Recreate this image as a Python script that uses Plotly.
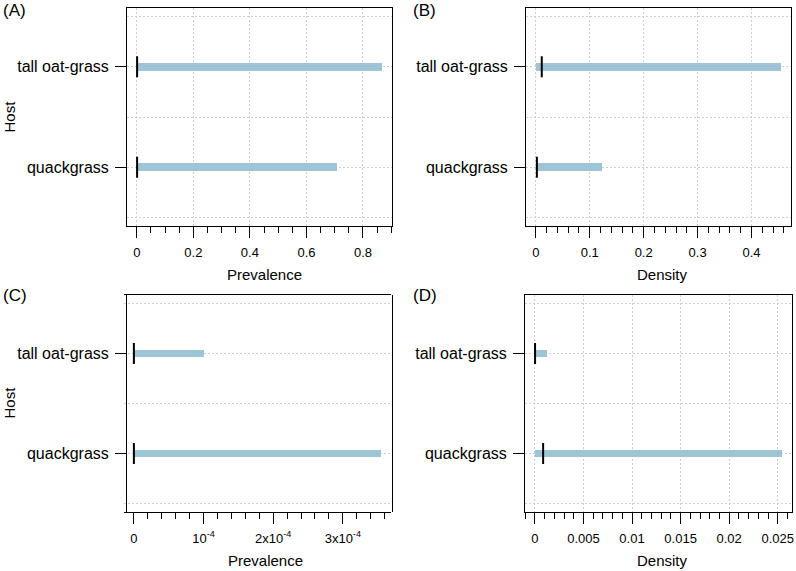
import plotly.graph_objects as go

W, H = 796, 571

# ---------------- data ----------------
hosts = ["quackgrass", "tall oat-grass"]
host_pos = [1, 2]

# (A) prevalence, top row
a_low = [0.0, 0.0]
a_high = [0.707, 0.868]
a_est = [0.001, 0.001]

# (B) density, top row
b_low = [0.0, 0.0]
b_high = [0.122, 0.455]
b_est = [0.002, 0.011]

# (C) prevalence, bottom row
c_low = [0.0, 0.0]
c_high = [3.55e-4, 1.0e-4]
c_est = [0.0, 0.0]

# (D) density, bottom row
d_low = [0.0, 0.0]
d_high = [0.0254, 0.0012]
d_est = [0.00085, 0.00002]

c_tickvals = [0, 1e-4, 2e-4, 3e-4]
c_ticktext = ["0", "10<sup>-4</sup>", "2x10<sup>-4</sup>", "3x10<sup>-4</sup>"]

BAR_COLOR = "#9DC5D6"
FONT = "Liberation Sans, Arial, sans-serif"
GRID = "#CFCFCF"

def px_x(p):
    return p / W

def px_y(p):
    return 1 - p / H

fig = go.Figure()

def add_panel(xa, ya, low, high, est):
    fig.add_trace(go.Bar(
        y=host_pos, x=[h - l for h, l in zip(high, low)], base=low,
        orientation="h", width=0.075,
        marker=dict(color=BAR_COLOR, line=dict(width=0)),
        xaxis=xa, yaxis=ya, showlegend=False, hoverinfo="skip"))
    fig.add_trace(go.Scatter(
        y=host_pos, x=est, mode="markers",
        marker=dict(symbol="line-ns", size=15, color="black",
                    line=dict(width=2, color="black")),
        xaxis=xa, yaxis=ya, showlegend=False, hoverinfo="skip", cliponaxis=False))

add_panel("x", "y", a_low, a_high, a_est)
add_panel("x2", "y2", b_low, b_high, b_est)
add_panel("x5", "y3", c_low, c_high, c_est)
add_panel("x4", "y4", d_low, d_high, d_est)

def rng(hi):
    return [-0.04 * hi, 1.04 * hi]

tickfont = dict(family=FONT, size=13, color="black")
catfont = dict(family=FONT, size=16, color="black")

def xaxis(domain, anchor, r, dtick, minor_dtick, grid=True):
    return dict(
        domain=domain, anchor=anchor, range=r, autorange=False,
        tickmode="linear", tick0=0, dtick=dtick,
        ticks="outside", ticklen=11, tickwidth=1, tickcolor="black",
        tickfont=tickfont, showline=True, linecolor="black", linewidth=1,
        mirror=True, zeroline=False,
        showgrid=grid, gridcolor=GRID, gridwidth=1, griddash="2px,2px",
        minor=dict(tick0=0, dtick=minor_dtick, ticks="outside", ticklen=6,
                   tickwidth=1, tickcolor="black", showgrid=False),
        ticklabelstandoff=3, automargin=False,
    )

def yaxis(domain, anchor):
    return dict(
        domain=domain, anchor=anchor, range=[0.415, 2.585], autorange=False,
        tickmode="array", tickvals=host_pos, ticktext=hosts,
        ticks="outside", ticklen=11, tickwidth=1, tickcolor="black",
        tickfont=catfont, showline=True, linecolor="black", linewidth=1,
        mirror=True, zeroline=False,
        showgrid=True, gridcolor=GRID, gridwidth=1, griddash="2px,2px",
        minor=dict(tickmode="array", tickvals=[0.5, 1.5, 2.5], ticks="",
                   showgrid=True, gridcolor=GRID, gridwidth=1, griddash="2px,2px"),
        ticklabelstandoff=3, automargin=False,
    )

top = [px_y(226), px_y(8)]
bot = [px_y(512), px_y(295)]
c_dom = [px_x(124), px_x(391)]

fig.update_layout(
    width=W, height=H,
    margin=dict(l=0, r=0, t=0, b=0, autoexpand=False),
    paper_bgcolor="white", plot_bgcolor="white",
    bargap=0,
    xaxis=xaxis([px_x(127), px_x(392)], "y", rng(0.868), 0.2, 0.05),
    yaxis=yaxis(top, "x"),
    xaxis2=xaxis([px_x(526), px_x(791)], "y2", rng(0.455), 0.1, 0.02),
    yaxis2=yaxis(top, "x2"),
    xaxis3=dict(domain=c_dom, anchor="y3", range=rng(3.55e-4), autorange=False,
                tickmode="linear", tick0=0, dtick=0.5e-4, ticks="",
                showticklabels=False, showline=True, linecolor="black",
                linewidth=1, mirror=True, zeroline=False, automargin=False,
                showgrid=True, gridcolor=GRID, gridwidth=1, griddash="2px,2px"),
    yaxis3=yaxis(bot, "x3"),
    xaxis4=xaxis([px_x(525), px_x(791.5)], "y4", rng(0.0254), 0.005, 0.001),
    yaxis4=yaxis(bot, "x4"),
    xaxis5=dict(overlaying="x3", anchor="y3", domain=c_dom, range=rng(3.55e-4),
                autorange=False, automargin=False,
                tickmode="array", tickvals=c_tickvals, ticktext=c_ticktext,
                ticks="outside", ticklen=11, tickwidth=1, tickcolor="black",
                tickfont=tickfont, showline=True, mirror=True, linecolor="black",
                linewidth=1, showgrid=False, zeroline=False,
                minor=dict(tickmode="linear", tick0=0, dtick=0.2e-4, ticks="outside",
                           ticklen=6, tickwidth=1, tickcolor="black", showgrid=False),
                ticklabelstandoff=3),
)

annotations = []
def ann(text, x, y, size=15, angle=0, xanchor="center"):
    annotations.append(dict(text=text, x=px_x(x), y=px_y(y), xref="paper", yref="paper",
                            showarrow=False, textangle=angle, xanchor=xanchor,
                            yanchor="middle", font=dict(family=FONT, size=size, color="black")))

ann("Prevalence", 264.5, 275)
ann("Density", 662, 275)
ann("Prevalence", 265, 560)
ann("Density", 662, 560)
ann("Host", 8.5, 117, angle=-90)
ann("Host", 8.5, 403, angle=-90)
ann("(A)", 1, 11, size=17, xanchor="left")
ann("(B)", 411, 11, size=17, xanchor="left")
ann("(C)", 1, 296, size=17, xanchor="left")
ann("(D)", 411, 296, size=17, xanchor="left")
fig.update_layout(annotations=annotations)

fig.write_html("out.html", config={"displayModeBar": False},
               post_script="document.body.style.margin='0';document.body.style.padding='0';document.body.style.overflow='hidden';")
